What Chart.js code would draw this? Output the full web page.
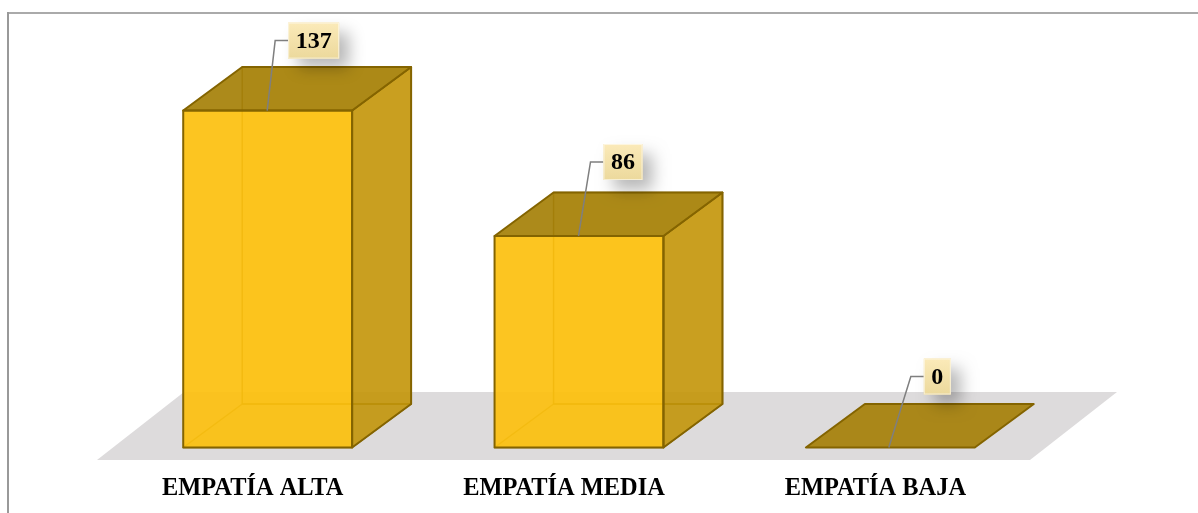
<!DOCTYPE html>
<html><head><meta charset="utf-8">
<style>html,body{margin:0;padding:0;background:#fff;overflow:hidden}#w{position:absolute;left:0;top:0;width:1198px;height:513px}
#ft{position:absolute;left:8px;top:12px;width:1190px;height:2px;background:#aaa}
#fl{position:absolute;left:7px;top:12px;width:1.5px;height:501px;background:#999}</style>
<script src="https://cdn.jsdelivr.net/npm/chart.js@4"></script></head>
<body><div id="w"><canvas id="c" width="1198" height="513"></canvas></div><div id="ft"></div><div id="fl"></div>
<script>
const categories = ['EMPATÍA ALTA', 'EMPATÍA MEDIA', 'EMPATÍA BAJA'];
const counts = [137, 86, 0];
const valueLabels = ['137', '86', '0'];
const leaderShift = [[8, -70], [12, -74], [22, -71]];
const DX = 59, DY = -43.5;
const EDGE = '#846400';
function poly(ctx, pts, fill, stroke, lw) {
  ctx.beginPath(); pts.forEach((p, i) => i ? ctx.lineTo(p[0], p[1]) : ctx.moveTo(p[0], p[1])); ctx.closePath();
  if (fill) { ctx.fillStyle = fill; ctx.fill(); }
  if (stroke) { ctx.strokeStyle = stroke; ctx.lineWidth = lw || 2; ctx.lineJoin = 'round'; ctx.stroke(); }
}
function box(el) {
  const hw = el.width / 2;
  return { l: el.x - hw, r: el.x + hw, t: el.y, b: el.base };
}
const box3d = {
  id: 'box3d',
  beforeDatasetsDraw(chart) {
    const ctx = chart.ctx, a = chart.chartArea, base = a.bottom;
    ctx.save();
    poly(ctx, [[a.left - 15, base + 12.5], [a.right - 16, base + 12.5], [a.right + 71, base - 55.5], [a.left + 72, base - 55.5]], '#dddbdc');
    chart.getDatasetMeta(0).data.forEach((el, i) => {
      const { l, r, t, b } = box(el);
      if (!counts[i]) return;
      poly(ctx, [[l + DX, t + DY], [r + DX, t + DY], [r + DX, b + DY], [l + DX, b + DY]], 'rgba(255,192,0,0.2)', 'rgba(127,96,0,.85)', 1.5);
      poly(ctx, [[l, b], [r, b], [r + DX, b + DY], [l + DX, b + DY]], 'rgba(191,144,0,0.1)', 'rgba(127,96,0,.75)', 1.5);
    });
    ctx.restore();
  },
  afterDatasetsDraw(chart) {
    const ctx = chart.ctx;
    ctx.save();
    chart.getDatasetMeta(0).data.forEach((el, i) => {
      const { l, r, t, b } = box(el);
      if (counts[i]) poly(ctx, [[r, t], [r + DX, t + DY], [r + DX, b + DY], [r, b]], 'rgba(194,148,8,0.88)', EDGE, 2);
      poly(ctx, [[l, t], [r, t], [r + DX, t + DY], [l + DX, t + DY]], 'rgba(165,128,8,0.92)', EDGE, 2);
      if (counts[i]) poly(ctx, [[l, t], [r, t], [r, b], [l, b]], null, EDGE, 2);
    });
    chart.getDatasetMeta(0).data.forEach((el, i) => {
      const sx = el.x - 0.5 + (i === 2 ? -1 : 0), sy = el.y;
      const ex = sx + leaderShift[i][0], ey = sy + leaderShift[i][1];
      ctx.beginPath(); ctx.moveTo(sx, sy); ctx.lineTo(ex, ey); ctx.lineTo(ex + 13, ey);
      ctx.strokeStyle = '#7f7f7f'; ctx.lineWidth = 1.5; ctx.lineJoin = 'miter'; ctx.stroke();
      ctx.font = 'bold 24px "Liberation Serif"';
      const tw = ctx.measureText(valueLabels[i]).width;
      const w = tw + 15, h = 36, bx = ex + 13, by = ey - h / 2;
      ctx.save();
      ctx.shadowColor = 'rgba(0,0,0,.28)'; ctx.shadowBlur = 16; ctx.shadowOffsetX = 10; ctx.shadowOffsetY = 10;
      ctx.fillStyle = '#f3dfa6'; ctx.fillRect(bx, by, w, h);
      ctx.restore();
      const g = ctx.createLinearGradient(0, by, 0, by + h);
      g.addColorStop(0, '#fbeab9'); g.addColorStop(1, '#ecd99c');
      ctx.fillStyle = g; ctx.fillRect(bx, by, w, h);
      ctx.strokeStyle = 'rgba(255,255,255,.55)'; ctx.lineWidth = 1; ctx.strokeRect(bx + .5, by + .5, w - 1, h - 1);
      ctx.fillStyle = '#000'; ctx.textAlign = 'center'; ctx.textBaseline = 'middle';
      ctx.fillText(valueLabels[i], bx + w / 2, by + h / 2 + 1);
    });
    ctx.restore();
  }
};
new Chart(document.getElementById('c'), {
  type: 'bar',
  data: { labels: categories, datasets: [{ data: counts, backgroundColor: 'rgba(252,192,14,0.92)', borderWidth: 0,
    barPercentage: 0.5425, categoryPercentage: 1 }] },
  options: {
    responsive: false, animation: false, devicePixelRatio: 1,
    layout: { padding: { left: 112, right: 152, top: 54, bottom: 12 } },
    plugins: { legend: { display: false }, tooltip: { enabled: false } },
    scales: {
      y: { display: false, min: 0, max: 160 },
      x: { border: { display: false }, grid: { display: false, drawTicks: false },
        afterFit(s) { s.height = 53.5; },
        ticks: { color: '#000', font: { family: '"Liberation Serif"', size: 24.4, weight: 'bold' }, labelOffset: -15, padding: 27, maxRotation: 0 } }
    }
  },
  plugins: [box3d]
});
</script></body></html>
